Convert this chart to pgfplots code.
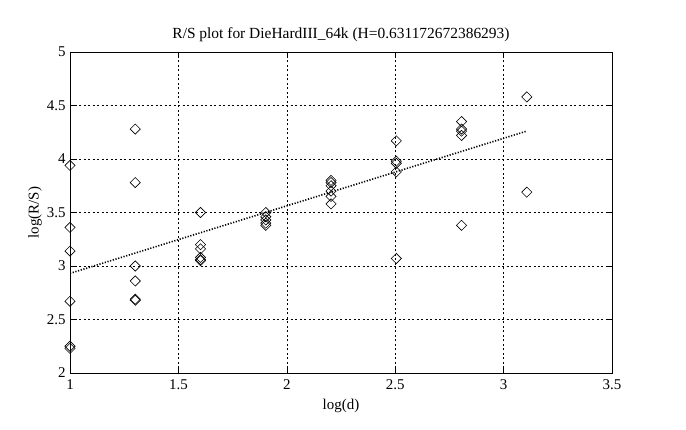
\documentclass[border=0pt]{standalone}
\usepackage{fontspec}
\setmainfont{Liberation Serif}
\usepackage{pgfplots}
\pgfplotsset{compat=1.18}
\begin{document}
\begin{tikzpicture}
\useasboundingbox (-70bp,-57bp) rectangle (616bp,373bp);
\begin{axis}[
  scale only axis,
  width=542bp, height=321bp,
  xmin=1, xmax=3.5, ymin=2, ymax=5,
  xtick={1,1.5,...,3.5}, ytick={2,2.5,...,5},
  xticklabels={1,1.5,2,2.5,3,3.5},
  yticklabels={2,2.5,3,3.5,4,4.5,5},
  grid=major,
  major grid style={black, dash pattern=on 2bp off 2.5bp, line width=0.6bp},
  tick align=inside, major tick length=5bp,
  tick style={black, line width=0.6bp},
  axis line style={line width=0.8bp},
  every tick label/.style={font=\fontsize{15}{17}\selectfont},
  xticklabel style={yshift=-3bp},
  yticklabel style={xshift=-1bp},
  title={R/S plot for DieHardIII\_64k (H=0.631172672386293)},
  title style={font=\fontsize{15.5}{17}\selectfont, yshift=1bp},
  xlabel={log(d)}, ylabel={log(R/S)},
  label style={font=\fontsize{15}{17}\selectfont},
  ylabel style={yshift=-2bp},
  xlabel style={yshift=-3bp},
]
\addplot[only marks, mark=square, mark size=3.6bp, mark options={rotate=45, black, line width=0.6bp}] coordinates {
(1,3.94) (1,3.36) (1,3.14) (1,2.67) (1,2.25) (1,2.23)
(1.301,4.28) (1.301,3.78) (1.301,3.00) (1.301,2.86) (1.301,2.69) (1.301,2.68)
(1.602,3.50) (1.602,3.20) (1.602,3.16) (1.602,3.08) (1.602,3.06) (1.602,3.05)
(1.903,3.50) (1.903,3.46) (1.903,3.43) (1.903,3.40) (1.903,3.38)
(2.204,3.80) (2.204,3.78) (2.204,3.75) (2.204,3.70) (2.204,3.65) (2.204,3.58)
(2.505,4.17) (2.505,3.98) (2.505,3.96) (2.505,3.88) (2.505,3.07)
(2.806,4.35) (2.806,4.28) (2.806,4.26) (2.806,4.22) (2.806,3.38)
(3.107,4.58) (3.107,3.69)
};
\addplot[black, line width=1.6bp, dash pattern=on 1.2bp off 1.6bp] coordinates {(1,2.931) (3.107,4.261)};
\end{axis}
\end{tikzpicture}
\end{document}
